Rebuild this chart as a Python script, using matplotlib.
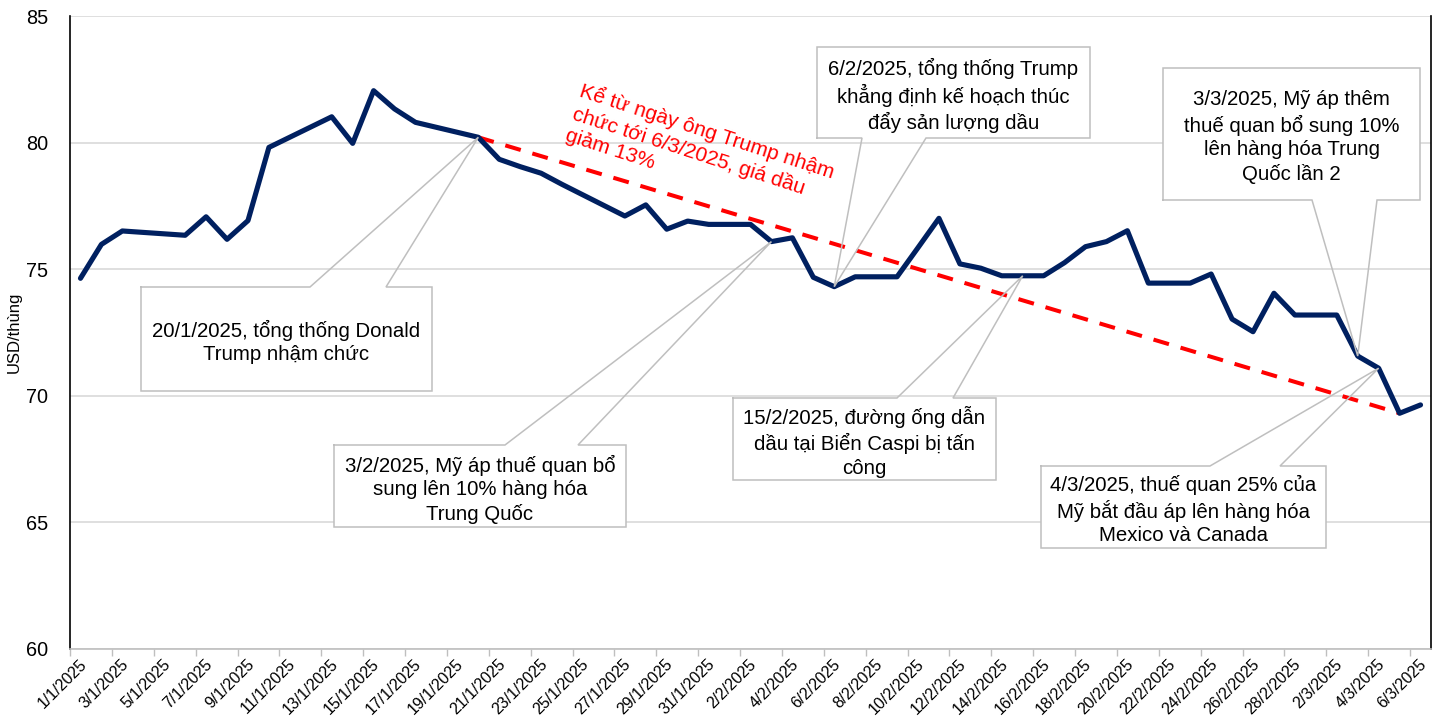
import matplotlib
matplotlib.use("Agg")
import matplotlib.pyplot as plt
import matplotlib.dates as mdates
import matplotlib.transforms as mtransforms
import pandas as pd

plt.rcParams['font.family'] = ['Liberation Sans', 'DejaVu Sans']

# ---- data ----
dates = ["1/1/2025", "2/1/2025", "3/1/2025", "6/1/2025", "7/1/2025", "8/1/2025", "9/1/2025",
         "10/1/2025", "13/1/2025", "14/1/2025", "15/1/2025", "16/1/2025", "17/1/2025",
         "20/1/2025", "21/1/2025", "22/1/2025", "23/1/2025", "24/1/2025", "27/1/2025",
         "28/1/2025", "29/1/2025", "30/1/2025", "31/1/2025", "2/2/2025", "3/2/2025",
         "4/2/2025", "5/2/2025", "6/2/2025", "7/2/2025", "9/2/2025", "10/2/2025",
         "11/2/2025", "12/2/2025", "13/2/2025", "14/2/2025", "16/2/2025", "17/2/2025",
         "18/2/2025", "19/2/2025", "20/2/2025", "21/2/2025", "23/2/2025", "24/2/2025",
         "25/2/2025", "26/2/2025", "27/2/2025", "28/2/2025", "2/3/2025", "3/3/2025",
         "4/3/2025", "5/3/2025", "6/3/2025"]
prices = [74.64, 75.98, 76.51, 76.34, 77.07, 76.18, 76.92,
          79.81, 81.02, 79.97, 82.05, 81.33, 80.80,
          80.21, 79.34, 79.05, 78.79, 78.35, 77.10,
          77.54, 76.58, 76.90, 76.77, 76.77, 76.09,
          76.24, 74.68, 74.31, 74.70, 74.70, 75.85,
          77.01, 75.21, 75.04, 74.74, 74.74, 75.26,
          75.89, 76.09, 76.52, 74.45, 74.45, 74.81,
          73.03, 72.53, 74.05, 73.19, 73.19, 71.57,
          71.09, 69.31, 69.64]

trend_dates = ["20/1/2025", "5/3/2025"]

y_label = "USD/thùng"
y_ticks = [60, 65, 70, 75, 80, 85]

trend_text = "Kể từ ngày ông Trump nhậm\nchức tới 6/3/2025, giá dầu\ngiảm 13%"

callouts = [
    ("20/1/2025, tổng thống Donald\nTrump nhậm chức", "20/1/2025"),
    ("3/2/2025, Mỹ áp thuế quan bổ\nsung lên 10% hàng hóa\nTrung Quốc", "3/2/2025"),
    ("6/2/2025, tổng thống Trump\nkhẳng định kế hoạch thúc\nđẩy sản lượng dầu", "6/2/2025"),
    ("15/2/2025, đường ống dẫn\ndầu tại Biển Caspi bị tấn\ncông", "15/2/2025"),
    ("3/3/2025, Mỹ áp thêm\nthuế quan bổ sung 10%\nlên hàng hóa Trung\nQuốc lần 2", "3/3/2025"),
    ("4/3/2025, thuế quan 25% của\nMỹ bắt đầu áp lên hàng hóa\nMexico và Canada", "4/3/2025"),
]

# ---- layout (pixels of the 1440x727 figure) ----
W, H = 1440, 727
L, R, T, B = 70, 1431, 16, 649
box_px = [  # x0, y0, x1, y1, wedge base xa, xb, edge
    (141, 287, 432, 391, 310, 386, "top"),
    (334, 445, 626, 527, 505, 578, "top"),
    (817, 47, 1090, 138, 862, 926, "bottom"),
    (733, 398, 996, 480, 897, 953, "top"),
    (1163, 68, 1420, 200, 1312, 1377, "bottom"),
    (1041, 466, 1326, 548, 1210, 1280, "top"),
]

NAVY = "#002060"
GRID = "#d9d9d9"
EDGE = "#bfbfbf"

fig = plt.figure(figsize=(W / 100, H / 100), dpi=100)
ax = fig.add_axes([L / W, 1 - B / H, (R - L) / W, (B - T) / H])

def to_dt(s):
    return pd.to_datetime(s, format="%d/%m/%Y")

half = pd.Timedelta(hours=12)
x = pd.to_datetime(dates, format="%d/%m/%Y") + half
ax.plot(x, prices, color=NAVY, lw=3.7, solid_joinstyle="round", solid_capstyle="round", zorder=4)

# trend line
tv = [prices[dates.index(d)] for d in trend_dates]
tx = pd.to_datetime(trend_dates, format="%d/%m/%Y") + half
ax.plot(tx, tv, color="#ff0000", lw=2.9, dashes=(4, 3), dash_capstyle="butt", zorder=3)

# axes
ax.set_xlim(to_dt("1/1/2025"), to_dt("7/3/2025"))
ax.set_ylim(60, 85)
ax.set_yticks(y_ticks)
ax.yaxis.grid(True, color=GRID, lw=1.2)
ax.set_axisbelow(True)
xt = pd.date_range(to_dt("1/1/2025"), to_dt("6/3/2025"), freq="2D")
ax.set_xticks(xt)
ax.tick_params(axis="x", colors=EDGE, labelcolor="black", length=5, width=1, pad=2)
ax.tick_params(axis="y", length=0, labelsize=14.3, pad=16)
ax.set_xticklabels([f"{d.day}/{d.month}/{d.year}" for d in xt], rotation=45,
                   ha="right", va="center", rotation_mode="anchor", fontsize=11.5)
offset = mtransforms.ScaledTranslation(14 / 100, -3 / 100, fig.dpi_scale_trans)
for lab in ax.xaxis.get_majorticklabels():
    lab.set_transform(lab.get_transform() + offset)
ax.set_ylabel(y_label, fontsize=12)
ax.yaxis.set_label_coords((22 - L) / (R - L), 0.5)
ax.spines["top"].set_visible(False)
ax.spines["bottom"].set_color(EDGE)
ax.spines["bottom"].set_linewidth(1.2)
ax.spines["left"].set_color("black")
ax.spines["left"].set_linewidth(1.2)
ax.spines["right"].set_color("black")
ax.spines["right"].set_linewidth(1.2)

# callouts
def px2ax(px, py):
    return (px - L) / (R - L), (B - py) / (B - T)

to_axes = ax.transData + ax.transAxes.inverted()
for (txt, d), (x0, y0, x1, y1, xa, xb, edge) in zip(callouts, box_px):
    dt = to_dt(d)
    if d in dates:
        v = prices[dates.index(d)]
    else:  # on a flat segment between neighbours
        i = max(k for k, s in enumerate(dates) if to_dt(s) < dt)
        v = prices[i]
    tipx, tipy = to_axes.transform((mdates.date2num(dt + half), v))
    ax0, ay0 = px2ax(x0, y0)
    ax1, ay1 = px2ax(x1, y1)
    xa_, _ = px2ax(xa, 0)
    xb_, _ = px2ax(xb, 0)
    ax.add_patch(plt.Rectangle((ax0, ay1), ax1 - ax0, ay0 - ay1, transform=ax.transAxes,
                               fc="white", ec="none", zorder=5, clip_on=False))
    if edge == "top":
        verts = [(ax0, ay0), (xa_, ay0), (tipx, tipy), (xb_, ay0), (ax1, ay0),
                 (ax1, ay1), (ax0, ay1), (ax0, ay0)]
    else:
        verts = [(ax0, ay1), (xa_, ay1), (tipx, tipy), (xb_, ay1), (ax1, ay1),
                 (ax1, ay0), (ax0, ay0), (ax0, ay1)]
    vx, vy = zip(*verts)
    ax.plot(vx, vy, transform=ax.transAxes, color=EDGE, lw=1.1, zorder=6, clip_on=False,
            solid_joinstyle="miter")
    cx, cy = px2ax((x0 + x1) / 2, (y0 + y1) / 2 + 3)
    ax.text(cx, cy, txt, transform=ax.transAxes, ha="center",
            va="center", multialignment="center", fontsize=14.7, zorder=7, linespacing=1.29)

# red rotated annotation
rx, ry = px2ax(584, 80)
ax.text(rx, ry, trend_text, transform=ax.transAxes, rotation=-18, rotation_mode="anchor",
        ha="left", va="top", color="#ff0000", fontsize=15, linespacing=1.25, zorder=7)

fig.savefig("out.png", dpi=100)
